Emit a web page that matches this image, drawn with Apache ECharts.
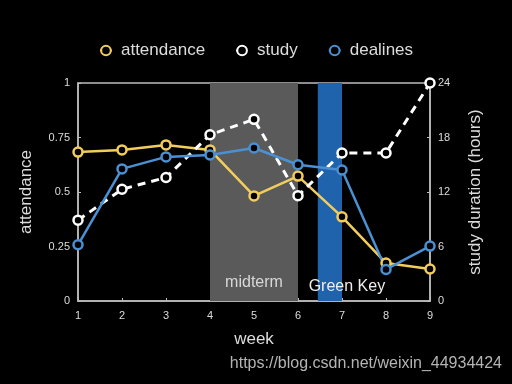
<!DOCTYPE html>
<html>
<head>
<meta charset="utf-8">
<script src="https://cdn.jsdelivr.net/npm/echarts@6/dist/echarts.min.js"></script>
<style>html,body{margin:0;padding:0;background:#000;}#c{width:512px;height:384px;}</style>
</head>
<body>
<div id="c"></div>
<script>
const weeks = [1, 2, 3, 4, 5, 6, 7, 8, 9];
const attendance = [0.683, 0.693, 0.716, 0.693, 0.482, 0.573, 0.386, 0.174, 0.147];
const study = [8.9, 12.3, 13.6, 18.3, 20.0, 11.6, 16.3, 16.3, 24];
const dealines = [0.258, 0.606, 0.661, 0.670, 0.702, 0.625, 0.601, 0.145, 0.252];
const leftTicks = [0, 0.25, 0.5, 0.75, 1];
const rightTicks = [0, 6, 12, 18, 24];
const midtermRange = [4, 6];
const greenKeyRange = [6.45, 7];

const font = 'Liberation Sans, Arial, sans-serif';
const txt = '#dcdcdc';
const chart = echarts.init(document.getElementById('c'));
const pair = (xs, ys) => xs.map((x, i) => [x, ys[i]]);
chart.setOption({
  backgroundColor: '#000',
  animation: false,
  legend: {
    top: 37, left: 'center', itemGap: 30, itemWidth: 12, itemHeight: 12,
    textStyle: { color: txt, fontSize: 17, fontFamily: font, padding: [0, 0, 0, 4] },
    data: ['attendance', 'study', 'dealines']
  },
  grid: { left: 78, right: 82, top: 83, bottom: 83, show: true, borderColor: '#bdbdbd', borderWidth: 1.5, backgroundColor: 'transparent' },
  xAxis: {
    type: 'value', min: 1, max: 9, interval: 1,
    name: 'week', nameLocation: 'middle', nameGap: 30,
    nameTextStyle: { color: txt, fontSize: 17, fontFamily: font },
    axisLine: { show: true, lineStyle: { color: '#bdbdbd', width: 1.5 } },
    axisTick: { show: true, inside: true, length: 3, lineStyle: { color: '#bdbdbd' } },
    axisLabel: { color: txt, fontSize: 11, fontFamily: font, margin: 9 },
    splitLine: { show: false }
  },
  yAxis: [{
    type: 'value', min: 0, max: 1, interval: 0.25,
    name: 'attendance', nameLocation: 'middle', nameGap: 43, nameRotate: 90,
    nameTextStyle: { color: txt, fontSize: 17, fontFamily: font },
    axisLine: { show: true, lineStyle: { color: '#bdbdbd', width: 1.5 } },
    axisTick: { show: true, inside: true, length: 3, lineStyle: { color: '#bdbdbd' } },
    axisLabel: { color: txt, fontSize: 11, fontFamily: font, margin: 8, formatter: v => leftTicks.includes(v) ? String(v) : '' },
    splitLine: { show: false }
  }, {
    type: 'value', min: 0, max: 24, interval: 6, position: 'right',
    name: 'study duration (hours)', nameLocation: 'middle', nameGap: 37, nameRotate: 90,
    nameTextStyle: { color: txt, fontSize: 17, fontFamily: font },
    axisLine: { show: true, lineStyle: { color: '#bdbdbd', width: 1.5 } },
    axisTick: { show: true, inside: true, length: 3, lineStyle: { color: '#bdbdbd' } },
    axisLabel: { color: txt, fontSize: 11, fontFamily: font, margin: 8, formatter: v => rightTicks.includes(v) ? String(v) : '' },
    splitLine: { show: false }
  }],
  graphic: [{
    type: 'text', right: 10, top: 356,
    style: { text: 'https://blog.csdn.net/weixin_44934424', fill: '#b4b4b4', fontSize: 16, fontFamily: font }
  }],
  series: [{
    name: 'attendance', type: 'line', yAxisIndex: 0, data: pair(weeks, attendance),
    symbol: 'circle', symbolSize: 9,
    itemStyle: { color: '#000', borderColor: '#f2cd5c', borderWidth: 2.5 },
    lineStyle: { color: '#f2cd5c', width: 2.5 },
    markArea: {
      silent: true,
      data: [
        [{ xAxis: midtermRange[0], itemStyle: { color: '#5a5a5a' },
           label: { show: true, position: 'insideBottom', distance: 10, formatter: 'midterm', color: '#d8d8d8', fontSize: 16, fontFamily: font } },
         { xAxis: midtermRange[1] }],
        [{ xAxis: greenKeyRange[0], itemStyle: { color: '#1f63ad' },
           label: { show: true, position: 'insideBottom', distance: 6, offset: [17, 0], formatter: 'Green Key', color: '#eeeeee', fontSize: 16, fontFamily: font } },
         { xAxis: greenKeyRange[1] }]
      ]
    }
  }, {
    name: 'study', type: 'line', yAxisIndex: 1, data: pair(weeks, study),
    symbol: 'circle', symbolSize: 9, z: 3,
    itemStyle: { color: '#000', borderColor: '#ffffff', borderWidth: 2.5 },
    lineStyle: { color: '#ffffff', width: 3, type: [8, 6] }
  }, {
    name: 'dealines', type: 'line', yAxisIndex: 0, data: pair(weeks, dealines),
    symbol: 'circle', symbolSize: 9,
    itemStyle: { color: '#000', borderColor: '#4a90d2', borderWidth: 2.5 },
    lineStyle: { color: '#4a90d2', width: 2.5 }
  }]
});
</script>
</body>
</html>
